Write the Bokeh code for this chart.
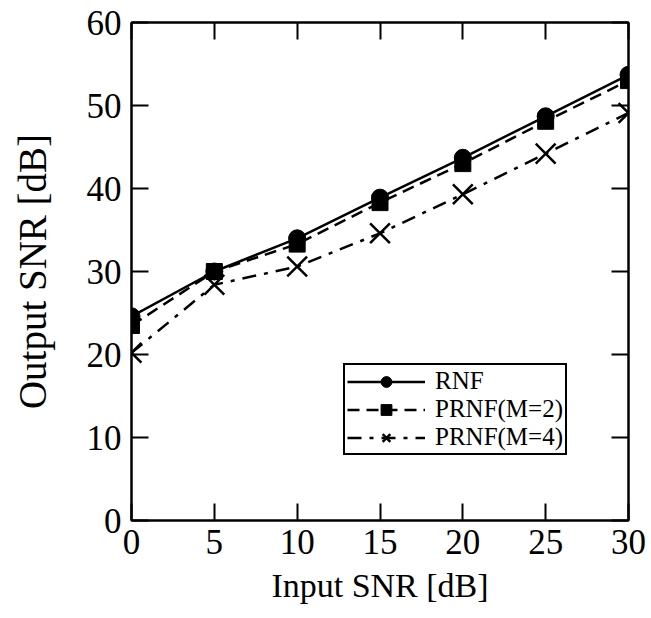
from bokeh.plotting import figure
from bokeh.models import Range1d, LinearAxis, Legend, LegendItem, FixedTicker
from bokeh.embed import file_html
from bokeh.resources import INLINE

# data
input_snr = [0, 5, 10, 15, 20, 25, 30]
rnf = [24.6, 30.0, 34.0, 38.9, 43.7, 48.7, 53.7]
prnf_m2 = [23.5, 30.0, 33.3, 38.3, 43.0, 48.1, 53.0]
prnf_m4 = [20.2, 28.4, 30.6, 34.6, 39.3, 44.2, 49.1]
x_ticks = [0, 5, 10, 15, 20, 25, 30]
y_ticks = [0, 10, 20, 30, 40, 50, 60]
labels = ["RNF", "PRNF(M=2)", "PRNF(M=4)"]
x_title = "Input SNR [dB]"
y_title = "Output SNR [dB]"

FONT = "Liberation Serif"

p = figure(width=651, height=618, output_backend="svg", toolbar_location=None,
           x_range=Range1d(0, 30), y_range=Range1d(0, 60),
           min_border_left=131, min_border_right=23, min_border_top=22, min_border_bottom=98)
p.background_fill_color = "white"
p.border_fill_color = "white"
p.grid.visible = False
p.outline_line_color = "black"
p.outline_line_width = 2

def style_axis(ax, show_labels=True):
    ax.major_tick_in = 17
    ax.major_tick_out = 0
    ax.minor_tick_in = 0
    ax.minor_tick_out = 0
    ax.major_tick_line_width = 2
    ax.major_tick_line_color = "black"
    ax.axis_line_width = 2
    ax.axis_line_color = "black"
    ax.major_label_text_font = FONT
    ax.major_label_text_font_size = "35px"
    ax.major_label_text_color = "black"
    ax.axis_label_text_font = FONT
    ax.axis_label_text_font_size = "34px"
    ax.axis_label_text_font_style = "normal"
    ax.axis_label_text_color = "black"
    if not show_labels:
        ax.major_label_text_font_size = "0px"
        ax.major_label_text_alpha = 0

xa = p.xaxis[0]
ya = p.yaxis[0]
xa.ticker = FixedTicker(ticks=x_ticks)
ya.ticker = FixedTicker(ticks=y_ticks)
style_axis(xa)
style_axis(ya)
xa.axis_label = x_title
ya.axis_label = y_title
ya.axis_label_text_font_size = "39px"
xa.major_label_standoff = 9
ya.major_label_standoff = 10
xa.axis_label_standoff = 10
ya.axis_label_standoff = 30

top = LinearAxis(ticker=FixedTicker(ticks=x_ticks))
style_axis(top, False)
p.add_layout(top, "above")
right = LinearAxis(ticker=FixedTicker(ticks=y_ticks))
style_axis(right, False)
p.add_layout(right, "right")

lw = 2.5
l4 = p.line(input_snr, prnf_m4, line_color="black", line_width=lw, line_dash="14 8 4 8")
m4 = p.scatter(input_snr, prnf_m4, marker="x", size=28, line_color="black", line_width=2.5)
l2 = p.line(input_snr, prnf_m2, line_color="black", line_width=lw, line_dash="12 7")
m2 = p.scatter(input_snr, prnf_m2, marker="square", size=16, fill_color="black", line_color="black")
l1 = p.line(input_snr, rnf, line_color="black", line_width=lw)
m1 = p.scatter(input_snr, rnf, marker="circle", size=17, fill_color="black", line_color="black")

legend = Legend(items=[
    LegendItem(label=labels[0], renderers=[l1, m1]),
    LegendItem(label=labels[1], renderers=[l2, m2]),
    LegendItem(label=labels[2], renderers=[l4, m4]),
], location=(212, 65))
legend.label_text_font = FONT
legend.label_text_font_size = "25px"
legend.label_text_color = "black"
legend.glyph_width = 78
legend.glyph_height = 27
legend.label_height = 27
legend.spacing = 0
legend.padding = 2
legend.margin = 0
legend.label_standoff = 10
legend.border_line_color = "black"
legend.border_line_alpha = 1
legend.border_line_width = 2
legend.background_fill_alpha = 1
p.add_layout(legend, "center")

open("out.html", "w").write(file_html(p, INLINE))
